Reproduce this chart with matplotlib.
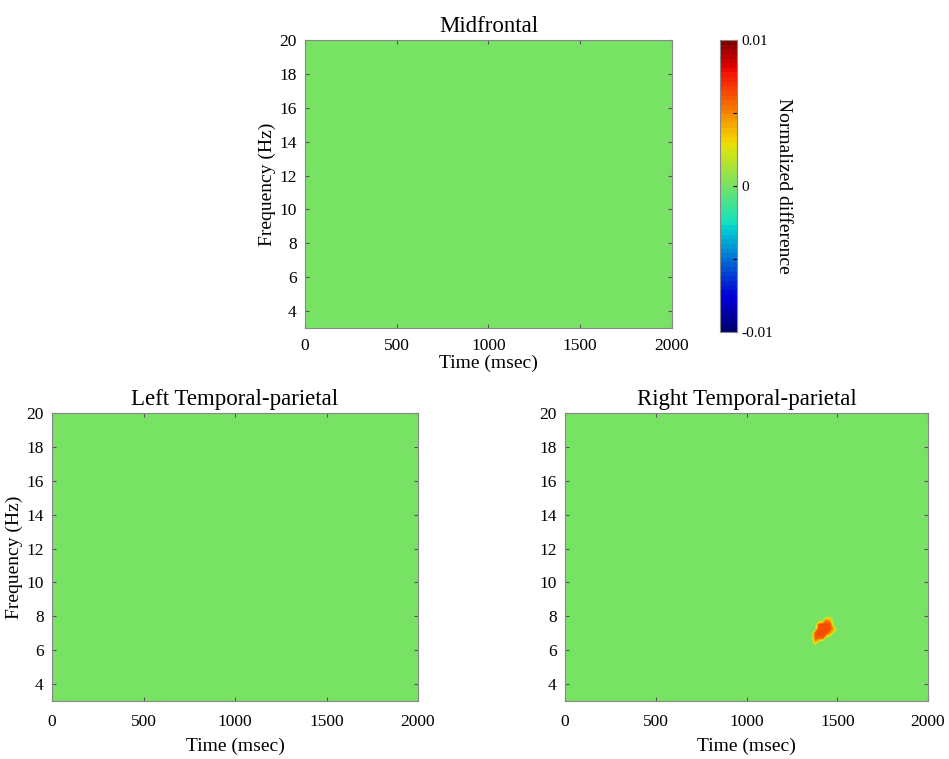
import numpy as np
import matplotlib
matplotlib.use("Agg")
import matplotlib.pyplot as plt
from matplotlib.colors import ListedColormap

plt.rcParams['font.family'] = ['Liberation Serif', 'DejaVu Serif']

# time-frequency grid
times = np.arange(0, 2001, 20)          # msec
freqs = np.arange(3, 20.01, 0.25)       # Hz

panel_titles = ['Midfrontal', 'Left Temporal-parietal', 'Right Temporal-parietal']

# the only significant cluster (right temporal-parietal)
blob_t = [1380, 1400, 1420, 1440, 1460, 1480]
blob_f = [6.5, 6.75, 7.0, 7.25, 7.5, 7.75]
blob_vals = [
    [0.004, 0.0, 0.0, 0.0, 0.0, 0.0],
    [0.006, 0.006, 0.006, 0.0, 0.0, 0.0],
    [0.006, 0.0065, 0.0065, 0.006, 0.004, 0.0],
    [0.0, 0.0065, 0.0065, 0.0065, 0.006, 0.004],
    [0.0, 0.006, 0.0065, 0.0065, 0.006, 0.0],
    [0.0, 0.0, 0.0, 0.005, 0.004, 0.0],
]

cbar_ticks = [-0.01, -0.005, 0, 0.005, 0.01]
cbar_labels = ['-0.01', '', '0', '', '0.01']

# jet, toned a bit to match the printed colours
base = plt.get_cmap('jet')(np.linspace(0, 1, 256))[:, :3]
base = base * np.array([0.96, 0.886, 0.83])
cmap = ListedColormap(base)

maps = [np.zeros((len(freqs), len(times))) for _ in range(3)]
for i, f in enumerate(blob_f):
    for j, t in enumerate(blob_t):
        fi = int(np.argmin(np.abs(freqs - f)))
        ti = int(np.argmin(np.abs(times - t)))
        maps[2][fi, ti] = blob_vals[i][j]

levels = np.linspace(-0.01, 0.01, 64)

fig = plt.figure(figsize=(9.49, 7.59), dpi=100)
positions = [
    [0.3214, 0.5679, 0.3867, 0.3794],
    [0.0548, 0.0764, 0.3857, 0.3794],
    [0.5954, 0.0764, 0.3825, 0.3794],
]

cs = None
for k, (pos, title, Z) in enumerate(zip(positions, panel_titles, maps)):
    ax = fig.add_axes(pos)
    cs = ax.contourf(times, freqs, Z, levels=levels, cmap=cmap,
                     vmin=-0.01, vmax=0.01)
    ax.set_xlim(0, 2000)
    ax.set_ylim(3, 20)
    ax.set_xticks([0, 500, 1000, 1500, 2000])
    ax.set_yticks([4, 6, 8, 10, 12, 14, 16, 18, 20])
    ax.tick_params(direction='in', top=True, right=True, labelsize=12.5,
                   length=3, color='#555555', pad=6)
    if k == 0:
        ax.tick_params(axis='x', pad=7)
        ax.set_xlabel('Time (msec)', fontsize=14, labelpad=1)
    else:
        ax.tick_params(axis='x', pad=9)
        ax.set_xlabel('Time (msec)', fontsize=14, labelpad=6)
    for s in ax.spines.values():
        s.set_color('#888888')
    ax.set_title(title, fontsize=16.5, pad=6)
    if k < 2:
        ax.set_ylabel('Frequency (Hz)', fontsize=14, labelpad=2)

cax = fig.add_axes([0.7587, 0.5626, 0.0179, 0.3847])
cb = fig.colorbar(cs, cax=cax, ticks=cbar_ticks)
cb.ax.set_yticklabels(cbar_labels)
cb.ax.tick_params(direction='in', labelsize=11, length=3, pad=3)
cb.outline.set_edgecolor('#888888')
cb.set_label('Normalized difference', rotation=-90, fontsize=14, labelpad=14)

fig.savefig('out.png', dpi=100)
